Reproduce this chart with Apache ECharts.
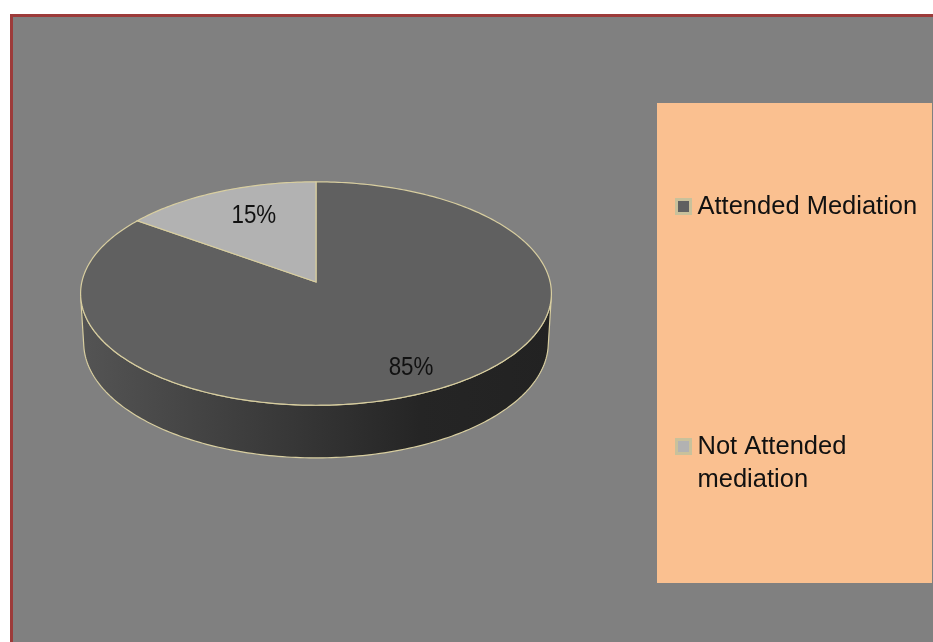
<!DOCTYPE html>
<html>
<head>
<meta charset="utf-8">
<script src="https://cdn.jsdelivr.net/npm/echarts@6/dist/echarts.min.js"></script>
<style>
  html, body { margin: 0; padding: 0; background: #ffffff; }
  #frame {
    position: absolute; left: 10px; top: 14px;
    width: 960px; height: 680px;
    border: 3px solid #9c3b3a; background: #808080;
  }
  #chart { position: absolute; left: 0; top: 0; width: 933px; height: 642px; }
</style>
</head>
<body>
<div id="frame"></div>
<div id="chart"></div>
<script>
// Survey split: who attended mediation
const categories = ['Attended Mediation', 'Not Attended mediation'];
const legendLabels = ['Attended Mediation', '\nNot Attended\nmediation'];
const shares = [85, 15];

const topColors = ['#606060', '#b2b2b2'];
const edgeColor = '#d8cea0';

// Perspective camera for the tilted disc (unit radius, thickness H)
const cam = { cx: 316, cy: 282, k: 2002, D: 8.55, s: 0.472, c: 0.882, H: 0.24 };
// Radial position of each percentage label, as a fraction of the radius
const labelRadius = [0.81, 0.66];

function project(X, Y, Z) {
  const yp = Y * cam.c + Z * cam.s;
  const zp = -Y * cam.s + Z * cam.c;
  const w = cam.D + zp;
  return [cam.cx + cam.k * X / w, cam.cy - cam.k * yp / w];
}

function arc(a0, a1, Y) {
  const n = Math.max(2, Math.ceil(Math.abs(a1 - a0) / (Math.PI * 2) * 360));
  const pts = [];
  for (let i = 0; i <= n; i++) {
    const t = a0 + (a1 - a0) * i / n;
    pts.push(project(Math.sin(t), Y, Math.cos(t)));
  }
  return pts;
}

const total = shares.reduce((a, b) => a + b, 0);
// Side wall faces the camera where cos(theta) < -1/(D*c)
const sideFrom = Math.acos(-1 / (cam.D * cam.c));
const sideTo = Math.PI * 2 - sideFrom;

const sideFill = new echarts.graphic.LinearGradient(0, 0, 1, 0, [
  { offset: 0, color: '#545454' },
  { offset: 0.45, color: '#373737' },
  { offset: 0.72, color: '#252525' },
  { offset: 1, color: '#222222' }
]);

function renderSlice(params, api) {
  const value = api.value(0);
  const before = api.value(1);
  const idx = api.value(2);
  const a0 = before / total * Math.PI * 2;
  const a1 = (before + value) / total * Math.PI * 2;
  const children = [];

  const lo = Math.max(a0, sideFrom);
  const hi = Math.min(a1, sideTo);
  if (hi > lo) {
    const pts = arc(lo, hi, 0).concat(arc(hi, lo, -cam.H));
    children.push({
      type: 'polygon', z2: 1,
      shape: { points: pts },
      style: { fill: sideFill, stroke: edgeColor, lineWidth: 1.2 }
    });
  }

  const topPts = [project(0, 0, 0)].concat(arc(a0, a1, 0));
  children.push({
    type: 'polygon', z2: 2,
    shape: { points: topPts },
    style: { fill: api.visual('color'), stroke: edgeColor, lineWidth: 1.2 }
  });

  const mid = (a0 + a1) / 2;
  const r = labelRadius[idx];
  const p = project(r * Math.sin(mid), 0, r * Math.cos(mid));
  children.push({
    type: 'text', z2: 3,
    x: p[0] + (idx === 1 ? 4 : 2), y: p[1] - (idx === 1 ? 5 : 0),
    scaleX: 0.86,
    style: {
      text: Math.round(value / total * 100) + '%',
      fill: '#111111',
      fontSize: 26,
      fontFamily: "'Liberation Sans', Arial, sans-serif",
      align: 'center', verticalAlign: 'middle'
    }
  });
  return { type: 'group', children: children };
}

let running = 0;
const series = categories.map((name, i) => {
  const item = [shares[i], running, i];
  running += shares[i];
  return {
    type: 'custom',
    name: name,
    coordinateSystem: 'none',
    silent: true,
    itemStyle: { color: topColors[i] },
    renderItem: renderSlice,
    data: [item]
  };
});

const chart = echarts.init(document.getElementById('chart'), null, { renderer: 'canvas' });
chart.setOption({
  backgroundColor: 'transparent',
  animation: false,
  graphic: [{
    type: 'rect', z: 0,
    shape: { x: 657, y: 103, width: 275, height: 480 },
    style: { fill: '#fac090' }
  }],
  legend: {
    orient: 'vertical',
    left: 675, top: 190,
    padding: 0,
    icon: 'rect',
    itemWidth: 14, itemHeight: 14,
    itemGap: 174,
    selectedMode: false,
    itemStyle: { borderColor: '#c9c19b', borderWidth: 3 },
    textStyle: {
      fontFamily: "'Liberation Sans', Arial, sans-serif",
      fontSize: 25.5, color: '#111111', lineHeight: 33,
      padding: [0, 0, 0, 2]
    },
    data: [{ name: categories[0] }, { name: categories[1] }],
    formatter: name => legendLabels[categories.indexOf(name)]
  },
  series: series
});
</script>
</body>
</html>
